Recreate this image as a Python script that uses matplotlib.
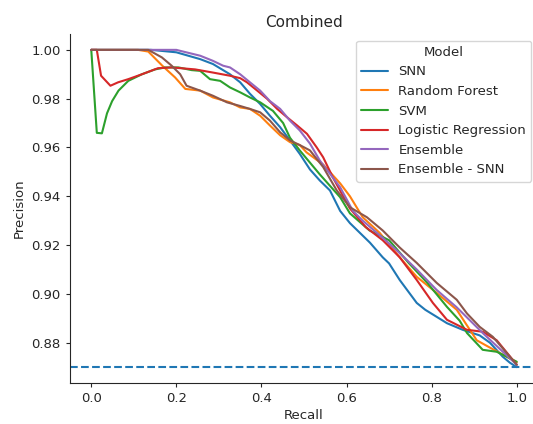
import matplotlib
matplotlib.use("Agg")
import matplotlib.pyplot as plt
import seaborn as sns

# precision / recall curves per model
snn_recall = [0.0, 0.14, 0.2, 0.22, 0.256, 0.286, 0.326, 0.35, 0.373, 0.397, 0.42, 0.444,
              0.467, 0.49, 0.514, 0.537, 0.561, 0.585, 0.608, 0.655, 0.685, 0.70, 0.725,
              0.765, 0.785, 0.812, 0.836, 0.873, 0.913, 0.937, 0.967, 0.984, 1.0]
snn_precision = [1.0, 1.0, 0.999, 0.998, 0.9962, 0.9942, 0.990, 0.9867, 0.982, 0.9778, 0.973, 0.9683,
                 0.9629, 0.9574, 0.951, 0.9465, 0.9424, 0.934, 0.929, 0.921, 0.915, 0.9125, 0.9057,
                 0.8963, 0.8935, 0.8906, 0.888, 0.8853, 0.883, 0.880, 0.8743, 0.8718, 0.870]

rf_recall = [0.0, 0.11, 0.134, 0.167, 0.197, 0.221, 0.256, 0.286, 0.326, 0.35, 0.373, 0.397,
             0.42, 0.444, 0.467, 0.49, 0.506, 0.545, 0.585, 0.608, 0.638, 0.678, 0.725, 0.765,
             0.812, 0.859, 0.906, 0.937, 1.0]
rf_precision = [1.0, 1.0, 0.9993, 0.9935, 0.9887, 0.984, 0.9833, 0.9805, 0.9785, 0.9764, 0.9758, 0.973,
                0.969, 0.965, 0.9622, 0.961, 0.958, 0.953, 0.9453, 0.940, 0.9314, 0.925, 0.915, 0.907,
                0.9004, 0.8935, 0.881, 0.878, 0.872]

svm_recall = [0.0, 0.013, 0.025, 0.037, 0.049, 0.064, 0.087, 0.119, 0.15, 0.174, 0.205, 0.236,
              0.256, 0.279, 0.303, 0.326, 0.35, 0.373, 0.397, 0.427, 0.451, 0.467, 0.49, 0.537,
              0.585, 0.608, 0.654, 0.70, 0.746, 0.79, 0.836, 0.866, 0.883, 0.92, 0.953, 0.98, 1.0]
svm_precision = [1.0, 0.966, 0.9658, 0.974, 0.979, 0.9833, 0.9873, 0.990, 0.992, 0.9928, 0.9928, 0.9917,
                 0.9914, 0.988, 0.9873, 0.9846, 0.9826, 0.9805, 0.9785, 0.975, 0.970, 0.964, 0.9588, 0.949,
                 0.9396, 0.933, 0.926, 0.922, 0.9127, 0.9045, 0.8947, 0.889, 0.884, 0.8771, 0.8763, 0.874, 0.8722]

lr_recall = [0.0, 0.013, 0.023, 0.045, 0.063, 0.087, 0.119, 0.157, 0.189, 0.244, 0.286, 0.326,
             0.35, 0.366, 0.39, 0.413, 0.437, 0.46, 0.484, 0.507, 0.53, 0.545, 0.568, 0.608,
             0.645, 0.685, 0.725, 0.765, 0.803, 0.836, 0.883, 0.92, 0.953, 1.0]
lr_precision = [1.0, 1.0, 0.9894, 0.9853, 0.9867, 0.988, 0.990, 0.9925, 0.9928, 0.992, 0.9907, 0.9894,
                0.9884, 0.9867, 0.9833, 0.980, 0.9758, 0.9724, 0.969, 0.9656, 0.960, 0.956, 0.9477, 0.9350,
                0.9274, 0.922, 0.915, 0.9057, 0.8963, 0.8894, 0.8853, 0.8845, 0.881, 0.871]

ens_recall = [0.0, 0.2, 0.209, 0.256, 0.286, 0.31, 0.326, 0.35, 0.373, 0.397, 0.42, 0.444,
              0.467, 0.49, 0.514, 0.537, 0.585, 0.615, 0.638, 0.685, 0.725, 0.765, 0.812, 0.859,
              0.92, 1.0]
ens_precision = [1.0, 1.0, 0.9996, 0.9976, 0.9955, 0.9935, 0.9928, 0.990, 0.9867, 0.9833, 0.979, 0.9758,
                 0.971, 0.967, 0.9616, 0.9547, 0.9437, 0.934, 0.930, 0.923, 0.9167, 0.910, 0.9016, 0.8945,
                 0.884, 0.871]

ens_snn_recall = [0.0, 0.134, 0.166, 0.189, 0.209, 0.224, 0.256, 0.286, 0.319, 0.35, 0.373, 0.397,
                  0.42, 0.444, 0.467, 0.49, 0.514, 0.545, 0.577, 0.608, 0.648, 0.685, 0.725, 0.765,
                  0.812, 0.859, 0.883, 0.913, 0.944, 1.0]
ens_snn_precision = [1.0, 1.0, 0.9969, 0.9935, 0.990, 0.9853, 0.9833, 0.9812, 0.9785, 0.977, 0.9758, 0.9744,
                     0.971, 0.9662, 0.9629, 0.961, 0.9588, 0.952, 0.9424, 0.9355, 0.9314, 0.926, 0.919, 0.9127,
                     0.9045, 0.8976, 0.892, 0.8865, 0.8824, 0.871]

model_names = ["SNN", "Random Forest", "SVM", "Logistic Regression", "Ensemble", "Ensemble - SNN"]
baseline = 0.87

sns.set_style("ticks")
plt.rcParams.update({
    "xtick.labelsize": 9.5,
    "ytick.labelsize": 9.5,
    "axes.labelsize": 9.5,
    "axes.titlesize": 11,
    "legend.fontsize": 9.5,
    "legend.title_fontsize": 9.5,
    "xtick.major.size": 3.2,
    "ytick.major.size": 3.2,
})

fig = plt.figure(figsize=(5.33, 4.24), dpi=100)
ax = fig.add_axes([70 / 533, 41 / 424, 468 / 533, 349 / 424])

curves = [
    (snn_recall, snn_precision),
    (rf_recall, rf_precision),
    (svm_recall, svm_precision),
    (lr_recall, lr_precision),
    (ens_recall, ens_precision),
    (ens_snn_recall, ens_snn_precision),
]
for name, (rec, prec) in zip(model_names, curves):
    ax.plot(rec, prec, label=name, linewidth=1.5)

ax.axhline(baseline, linestyle="--", color="tab:blue", linewidth=1.5)

ax.set_title("Combined", pad=5)
ax.set_xlabel("Recall", labelpad=3)
ax.set_ylabel("Precision", labelpad=4)
ax.legend(title="Model", loc="upper right")
sns.despine(ax=ax)

fig.savefig("out.png", dpi=100)
